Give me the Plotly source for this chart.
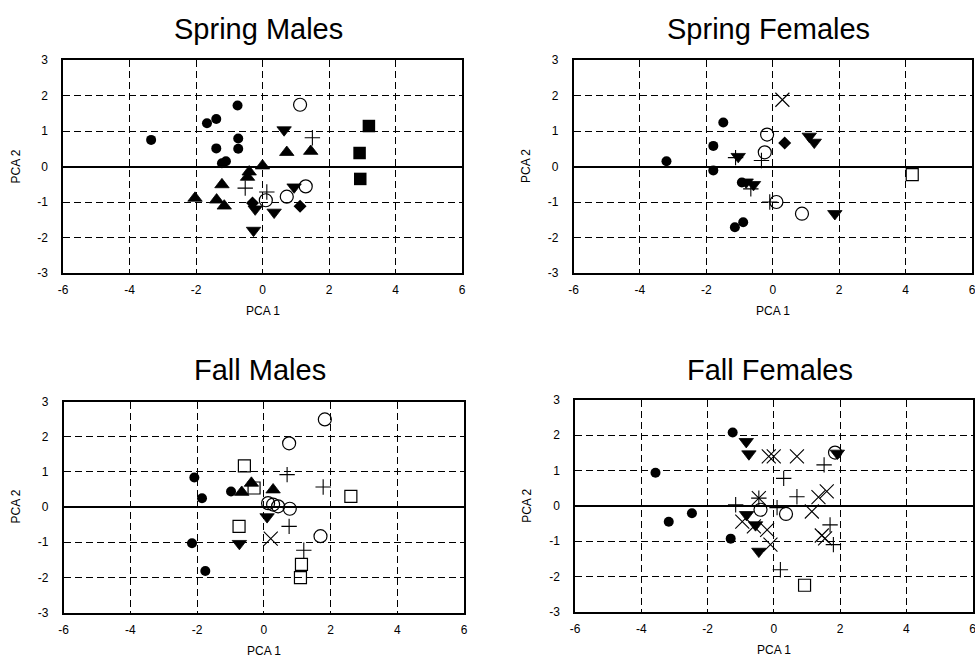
import plotly.graph_objects as go

# ---------------- DATA (PCA 1, PCA 2) ----------------
# Spring Males
sm_circle = [(-3.35, 0.75), (-0.75, 1.72), (-1.67, 1.22), (-1.39, 1.34), (-1.39, 0.51),
             (-0.73, 0.79), (-0.73, 0.50), (-1.22, 0.09), (-1.10, 0.15)]
sm_tri_up = [(-2.03, -0.89), (-1.22, -0.51), (-1.38, -0.94), (-1.15, -1.11), (-0.45, -0.30),
             (-0.40, -0.15), (0.00, 0.02), (0.73, 0.40), (1.45, 0.43)]
sm_tri_down = [(-0.27, -1.80), (-0.22, -1.20), (0.65, 1.03), (0.35, -1.29), (0.95, -0.58)]
sm_diamond = [(-0.30, -1.03), (1.13, -1.12)]
sm_square = [(3.20, 1.14), (2.92, 0.38), (2.94, -0.35)]
sm_circle_open = [(1.13, 1.74), (1.30, -0.56), (0.73, -0.85), (0.10, -0.95)]
sm_plus = [(-0.52, -0.61), (0.13, -0.72), (1.50, 0.81)]

# Spring Females
sf_circle = [(-3.20, 0.15), (-1.49, 1.24), (-1.79, 0.58), (-1.79, -0.11), (-0.93, -0.45),
             (-0.89, -1.57), (-1.14, -1.71)]
sf_tri_down = [(-1.04, 0.28), (-0.58, -0.51), (-0.80, -0.44), (1.10, 0.85), (1.25, 0.68),
               (1.87, -1.33)]
sf_plus = [(-1.12, 0.25), (-0.66, -0.63), (-0.34, 0.17), (-0.09, -1.00)]
sf_circle_open = [(-0.17, 0.90), (-0.24, 0.40), (0.11, -1.00), (0.88, -1.33)]
sf_diamond = [(0.36, 0.66)]
sf_x = [(0.29, 1.88)]
sf_square_open = [(4.20, -0.23)]

# Fall Males
fm_circle = [(-2.08, 0.84), (-1.85, 0.25), (-2.15, -1.03), (-1.75, -1.82), (-0.98, 0.44)]
fm_tri_up = [(-0.66, 0.42), (-0.37, 0.68), (0.28, 0.49)]
fm_tri_down = [(-0.73, -1.04), (0.10, -0.28)]
fm_square_open = [(-0.58, 1.17), (-0.29, 0.54), (-0.74, -0.55), (2.61, 0.30), (1.13, -1.63),
                  (1.10, -2.01)]
fm_circle_open = [(1.83, 2.49), (0.76, 1.81), (0.13, 0.11), (0.28, 0.07), (0.43, 0.02),
                  (0.78, -0.05), (1.70, -0.83)]
fm_plus = [(0.70, 0.92), (1.78, 0.57), (0.76, -0.55), (1.20, -1.23)]
fm_x = [(0.21, -0.90)]

# Fall Females
ff_circle = [(-3.57, 0.94), (-3.17, -0.45), (-2.47, -0.21), (-1.24, 2.08), (-1.30, -0.93)]
ff_tri_down = [(-0.83, 1.82), (-0.75, 1.47), (-0.82, -0.25), (-0.55, -0.54), (-0.45, -1.29),
               (1.92, 1.49)]
ff_circle_open = [(1.85, 1.51), (0.37, -0.23), (-0.40, -0.11)]
ff_x = [(-0.15, 1.40), (0.00, 1.40), (0.70, 1.40), (1.60, 0.41), (1.35, 0.25), (1.15, -0.16),
        (1.45, -0.84), (1.55, -0.92), (-0.10, -1.10), (-0.20, -0.68), (-0.95, -0.45),
        (-0.60, -0.58), (-0.45, 0.22)]
ff_plus = [(-0.45, 0.22), (-1.15, 0.03), (0.30, 0.78), (0.70, 0.26), (1.52, 1.16),
           (1.70, -0.54), (1.80, -1.10), (0.20, -1.81), (0.10, -0.05)]
ff_square_open = [(0.93, -2.25)]

panel_titles = ["Spring Males", "Spring Females", "Fall Males", "Fall Females"]
x_ticks = [-6, -4, -2, 0, 2, 4, 6]
y_ticks = [-3, -2, -1, 0, 1, 2, 3]

# ---------------- STYLES ----------------
STYLE = {
    "circle": dict(symbol="circle", size=10, color="black", line=dict(width=0)),
    "circle_open": dict(symbol="circle-open", size=13, color="black", line=dict(width=1.2)),
    "tri_up": dict(symbol="triangle-up", size=12.5, color="black", line=dict(width=0.8, color="black")),
    "tri_down": dict(symbol="triangle-down", size=12.5, color="black", line=dict(width=0.8, color="black")),
    "diamond": dict(symbol="diamond", size=10, color="black", line=dict(width=0)),
    "square": dict(symbol="square", size=12.5, color="black", line=dict(width=0)),
    "square_open": dict(symbol="square-open", size=12, color="black", line=dict(width=1.2)),
    "plus": dict(symbol="cross-thin-open", size=11, color="black", line=dict(width=1.1, color="black")),
    "x": dict(symbol="x-thin-open", size=14, color="black", line=dict(width=1.1, color="black")),
}

panels = [
    {"circle": sm_circle, "tri_up": sm_tri_up, "tri_down": sm_tri_down, "diamond": sm_diamond,
     "square": sm_square, "circle_open": sm_circle_open, "plus": sm_plus},
    {"circle": sf_circle, "tri_down": sf_tri_down, "plus": sf_plus, "circle_open": sf_circle_open,
     "diamond": sf_diamond, "x": sf_x, "square_open": sf_square_open},
    {"circle": fm_circle, "tri_up": fm_tri_up, "tri_down": fm_tri_down,
     "square_open": fm_square_open, "circle_open": fm_circle_open, "plus": fm_plus, "x": fm_x},
    {"circle": ff_circle, "tri_down": ff_tri_down, "circle_open": ff_circle_open, "x": ff_x,
     "plus": ff_plus, "square_open": ff_square_open},
]

W, H = 975, 657
# plot-area pixel boxes (left, right, top, bottom)
boxes = [(63, 462, 60, 273), (573.5, 972, 60, 273), (63.5, 464, 401.5, 612.5), (575, 972.5, 400, 611.7)]
title_center_y = [29, 29, 370, 370]

fig = go.Figure()
FONT = "Arial, Liberation Sans, Helvetica, sans-serif"

for i, (pdata, box) in enumerate(zip(panels, boxes)):
    n = "" if i == 0 else str(i + 1)
    for key, pts in pdata.items():
        fig.add_trace(go.Scatter(
            x=[p[0] for p in pts], y=[p[1] for p in pts], mode="markers",
            marker=STYLE[key], xaxis="x" + n, yaxis="y" + n, showlegend=False,
            cliponaxis=False))
    l, r, t, b = box
    axcommon = dict(showline=True, mirror=True, linecolor="black", linewidth=1.5,
                    showgrid=True, gridcolor="black", gridwidth=1, griddash="7px,4px",
                    ticks="", automargin=False, ticklabeloverflow="allow",
                    tickfont=dict(family=FONT, size=12, color="black"))
    fig.layout["xaxis" + n] = dict(domain=[l / W, r / W], range=[-6, 6], tickvals=x_ticks,
                                   ticktext=[str(v) for v in x_ticks], zeroline=False,
                                   anchor="y" + n, ticklabelstandoff=5, **axcommon)
    fig.layout["yaxis" + n] = dict(domain=[1 - b / H, 1 - t / H], range=[-3, 3], tickvals=y_ticks,
                                   ticktext=[str(v) for v in y_ticks], zeroline=True,
                                   zerolinecolor="black", zerolinewidth=1.6,
                                   anchor="x" + n, ticklabelstandoff=11, **axcommon)
    cx = (l + r) / 2
    fig.add_annotation(text=panel_titles[i], x=(cx - 4) / W, y=1 - title_center_y[i] / H,
                       xref="paper", yref="paper",
                       showarrow=False, font=dict(family=FONT, size=29, color="black"),
                       xanchor="center", yanchor="middle")
    fig.add_annotation(text="PCA 1", x=cx / W, y=1 - (b + 38) / H, xref="paper", yref="paper",
                       showarrow=False, font=dict(family=FONT, size=12, color="black"),
                       xanchor="center", yanchor="middle")
    fig.add_annotation(text="PCA 2", x=(l - 48) / W, y=1 - ((t + b) / 2) / H, xref="paper",
                       yref="paper", showarrow=False, textangle=-90,
                       font=dict(family=FONT, size=12, color="black"),
                       xanchor="center", yanchor="middle")

fig.update_layout(width=W, height=H, margin=dict(l=0, r=0, t=0, b=0),
                  paper_bgcolor="white", plot_bgcolor="white", showlegend=False)

fig.write_html("out.html", config={"displayModeBar": False},
               post_script="document.body.style.margin='0';document.body.style.padding='0';"
                           "document.body.style.overflow='hidden';")
